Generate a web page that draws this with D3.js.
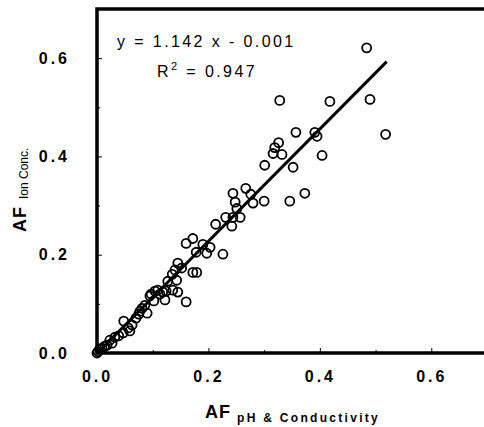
<!DOCTYPE html>
<html>
<head>
<meta charset="utf-8">
<script src="https://cdn.jsdelivr.net/npm/d3@7"></script>
<style>
  html, body { margin: 0; padding: 0; background: #fff; }
  svg { display: block; }
</style>
</head>
<body>
<div id="chart"></div>
<script>
"use strict"

// AF from pH & conductivity (x) vs AF from ion concentrations (y)
const afPhCond = [
  0.484, 0.418, 0.490, 0.328, 0.391, 0.395, 0.518, 0.357, 0.326, 0.319,
  0.316, 0.332, 0.404, 0.301, 0.352, 0.373, 0.346, 0.300, 0.267, 0.244,
  0.276, 0.248, 0.280, 0.251, 0.231, 0.244, 0.257, 0.213, 0.242, 0.172,
  0.160, 0.190, 0.203, 0.178, 0.197, 0.226, 0.145, 0.140, 0.135, 0.172,
  0.179, 0.143, 0.127, 0.124, 0.145, 0.160, 0.104, 0.097, 0.102, 0.122,
  0.118, 0.136, 0.095, 0.077, 0.090, 0.075, 0.081, 0.070, 0.048, 0.059,
  0.047, 0.032, 0.039, 0.023, 0.014, 0.005, 0.000, 0.063, 0.056, 0.113,
  0.109, 0.152, 0.086, 0.027, 0.002, 0.009, 0.018
];
const afIonConc = [
  0.621, 0.512, 0.516, 0.514, 0.449, 0.441, 0.445, 0.449, 0.428, 0.418,
  0.406, 0.404, 0.402, 0.382, 0.378, 0.325, 0.309, 0.309, 0.335, 0.325,
  0.323, 0.307, 0.305, 0.294, 0.276, 0.276, 0.276, 0.262, 0.258, 0.233,
  0.223, 0.221, 0.215, 0.205, 0.203, 0.201, 0.183, 0.169, 0.160, 0.164,
  0.164, 0.148, 0.146, 0.126, 0.124, 0.104, 0.126, 0.120, 0.106, 0.108,
  0.124, 0.128, 0.116, 0.085, 0.081, 0.079, 0.091, 0.071, 0.065, 0.045,
  0.041, 0.032, 0.035, 0.026, 0.014, 0.008, 0.000, 0.057, 0.051, 0.120,
  0.128, 0.173, 0.097, 0.020, 0.003, 0.010, 0.016
];

// fitted line y = 1.142 x - 0.001, drawn over x = 0 .. 0.52
const fitSlope = 1.142;
const fitIntercept = -0.001;
const fitRange = [0, 0.52];

const tickValues = [0.0, 0.2, 0.4, 0.6];
const minorTicks = [0.1, 0.3, 0.5];

const width = 484, height = 427;
const margin = {left: 97, top: 9, bottom: 74};
const plotW = 390, plotH = height - margin.top - margin.bottom;

const x = d3.scaleLinear().domain([0, 0.7]).range([margin.left, margin.left + plotW]);
const y = d3.scaleLinear().domain([0, 0.7]).range([margin.top + plotH, margin.top]);

const svg = d3.select("#chart")
  .append("svg")
  .attr("width", width)
  .attr("height", height);

// frame
svg.append("rect")
  .attr("x", x(0))
  .attr("y", y(0.7))
  .attr("width", x(0.7) - x(0))
  .attr("height", y(0) - y(0.7))
  .attr("fill", "none")
  .attr("stroke", "#000")
  .attr("stroke-width", 3.5);

// axes with inward ticks
const fmt = d3.format(".1f");
const xAxis = svg.append("g")
  .attr("transform", `translate(0,${y(0)})`)
  .call(d3.axisBottom(x).tickValues(tickValues).tickSize(-5).tickPadding(18).tickFormat(fmt));
const yAxis = svg.append("g")
  .attr("transform", `translate(${x(0)},0)`)
  .call(d3.axisLeft(y).tickValues(tickValues).tickSize(-5).tickPadding(27).tickFormat(fmt));

[xAxis, yAxis].forEach(g => {
  g.select(".domain").remove();
  g.selectAll(".tick line").attr("stroke", "#000").attr("stroke-width", 1);
  g.selectAll(".tick text")
    .attr("fill", "#000")
    .style("font-family", "'Liberation Sans', Arial, sans-serif")
    .style("font-weight", "bold")
    .style("font-size", "16px")
    .style("letter-spacing", "3px");
});

svg.append("g")
  .attr("transform", `translate(0,${y(0)})`)
  .call(d3.axisBottom(x).tickValues(minorTicks).tickSize(-3).tickFormat(""))
  .call(g => g.select(".domain").remove());
svg.append("g")
  .attr("transform", `translate(${x(0)},0)`)
  .call(d3.axisLeft(y).tickValues(minorTicks).tickSize(-3).tickFormat(""))
  .call(g => g.select(".domain").remove());

// regression line
svg.append("line")
  .attr("x1", x(fitRange[0]))
  .attr("y1", y(fitSlope * fitRange[0] + fitIntercept))
  .attr("x2", x(fitRange[1]))
  .attr("y2", y(fitSlope * fitRange[1] + fitIntercept))
  .attr("stroke", "#000")
  .attr("stroke-width", 3);

// points
const points = afPhCond.map((v, i) => ({x: v, y: afIonConc[i]}));
svg.selectAll("circle.pt")
  .data(points)
  .enter()
  .append("circle")
    .attr("class", "pt")
    .attr("cx", d => x(d.x))
    .attr("cy", d => y(d.y))
    .attr("r", 4.5)
    .attr("fill", "none")
    .attr("stroke", "#000")
    .attr("stroke-width", 1.8);

// equation text
const eqFont = "'Liberation Sans', Arial, sans-serif";
svg.append("text")
  .attr("x", 117).attr("y", 47)
  .style("font-family", eqFont).style("font-size", "16px").style("letter-spacing", "2.4px")
  .text("y = 1.142 x - 0.001");
const r2 = svg.append("text")
  .attr("x", 157).attr("y", 77)
  .style("font-family", eqFont).style("font-size", "16px").style("letter-spacing", "2.4px");
r2.append("tspan").text("R");
r2.append("tspan").attr("dy", -7).style("font-size", "11px").text("2");
r2.append("tspan").attr("dy", 7).text(" = 0.947");

// axis titles
const xt = svg.append("text")
  .attr("x", 205).attr("y", 418)
  .style("font-family", eqFont).style("font-weight", "bold");
xt.append("tspan").style("font-size", "18px").style("letter-spacing", "1px").text("AF");
xt.append("tspan").attr("dx", 6).attr("dy", 4).style("font-size", "12px").style("letter-spacing", "2.3px").text("pH & Conductivity");

const yt = svg.append("text")
  .attr("transform", "translate(26,232) rotate(-90)")
  .style("font-family", eqFont);
yt.append("tspan").style("font-size", "18px").style("font-weight", "bold").style("letter-spacing", "1px").text("AF");
yt.append("tspan").attr("dx", 7).attr("dy", 2).style("font-size", "12px").text("Ion Conc.");
</script>
</body>
</html>
